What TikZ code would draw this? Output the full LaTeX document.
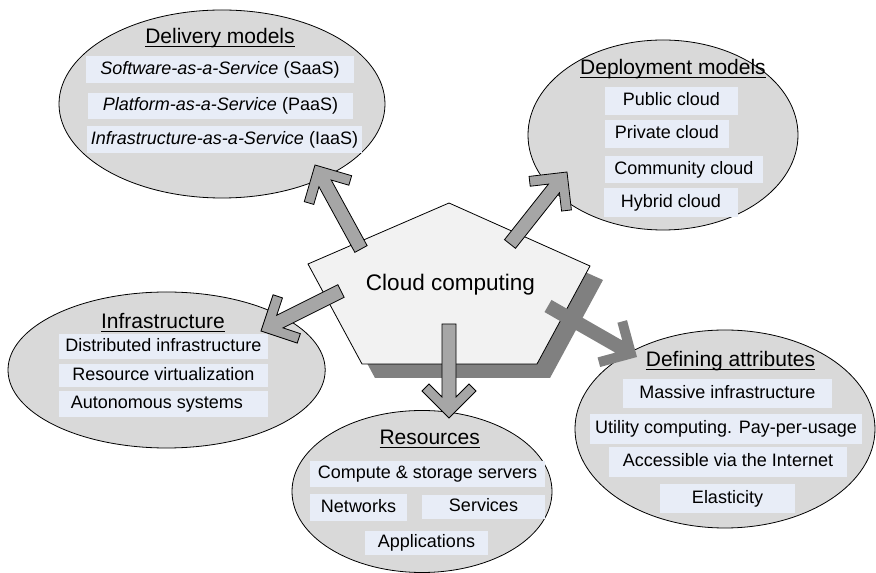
\documentclass[tikz,border=0pt]{standalone}
\usepackage{fontspec}
\setmainfont{Liberation Sans}
\usetikzlibrary{calc,shapes.geometric}
\definecolor{ellfill}{RGB}{217,217,217}
\definecolor{boxfill}{RGB}{232,237,247}
\definecolor{pentfill}{RGB}{242,242,242}
\definecolor{arrfill}{RGB}{166,166,166}
\definecolor{shadowgray}{RGB}{128,128,128}
\newcommand\ultext[1]{\setbox0\hbox{#1}\rlap{\rule[-2.4pt]{\wd0}{0.8pt}}\box0}
\newcommand\itemfont{\fontsize{13.5pt}{16pt}\selectfont}
\newcommand\titlefont{\fontsize{15.75pt}{18pt}\selectfont}
\newcommand\centerfont{\fontsize{16.9pt}{20pt}\selectfont}
% chevron block arrow: #1 tail, #2 tip, #3 style
\newcommand\chevarrow[3]{%
  \path ($(#2)!20.25pt!(#1)$) coordinate (caA)
        ($(#2)!25.5pt!(#1)$) coordinate (caB)
        ($(#2)!15.75pt!(#1)$) coordinate (caC);
  \path[#3] (#2) -- ($(caA)!20.25pt!90:(#2)$) -- ($(caB)!15pt!90:(#2)$)
     -- ($(caC)!5.25pt!90:(#2)$) -- ($(#1)!5.25pt!90:(#2)$)
     -- ($(#1)!5.25pt!-90:(#2)$) -- ($(caC)!5.25pt!-90:(#2)$)
     -- ($(caB)!15pt!-90:(#2)$) -- ($(caA)!20.25pt!-90:(#2)$) -- cycle;}
\begin{document}
\begin{tikzpicture}[x=0.75pt,y=-0.75pt,
  ell/.style 2 args={ellipse, draw=black, line width=0.6pt, fill=ellfill, inner sep=0pt,
    minimum width=1.5*#1pt, minimum height=1.5*#2pt},
  box/.style 2 args={fill=boxfill, inner sep=0pt, font=\itemfont,
    minimum width=0.75*#1pt, minimum height=0.75*#2pt, text height=9.8pt, text depth=2.9pt},
  ttl/.style={anchor=base, inner sep=0pt, font=\titlefont},
  arr/.style={fill=arrfill, draw=black, line width=0.6pt, line join=miter},
  arrdark/.style={fill=shadowgray}]
\useasboundingbox (0,0) rectangle (876,573);

% ellipses
\node[ell={163}{94}] (edel) at (222,104) {};
\node[ell={135}{95}] (edep) at (663,135) {};
\node[ell={158.6}{78}] (einf) at (166.6,370) {};
\node[ell={130}{81}] (eres) at (422,491.5) {};
\node[ell={150}{99}] (eatt) at (725,429) {};

% Delivery models
\node[ttl] (tdel) at (220,44) {\ultext{Delivery models}};
\node[box={268}{27}] (b11) at (220,69.5) {\textit{Software-as-a-Service} (SaaS)};
\node[box={265}{26}] (b12) at (220.5,106) {\textit{Platform-as-a-Service} (PaaS)};
\node[box={275}{27}] (b13) at (224.5,139.5) {\textit{Infrastructure-as-a-Service} (IaaS)};

% Deployment models
\node[ttl] (tdep) at (673,75) {\ultext{Deployment models}};
\node[box={133}{28}] (b21) at (671.5,101) {Public cloud};
\node[box={124}{28}] (b22) at (667,134) {Private cloud};
\node[box={158}{27}] (b23) at (684,169.5) {Community cloud};
\node[box={134}{29}] (b24) at (671,202.5) {Hybrid cloud};

% Infrastructure
\node[ttl] (tinf) at (163,329) {\ultext{Infrastructure}};
\node[box={209}{25}] (b31) at (163.5,346.5) {Distributed infrastructure};
\node[box={209}{23}] (b32) at (163.5,375.5) {Resource virtualization};
\node[box={209}{26}] (b33) at (163.5,404) {\hspace*{-10pt}Autonomous systems};

% Resources
\node[ttl] (tres) at (429.7,445) {\ultext{Resources}};
\node[box={235}{26}] (b41) at (427.5,474) {Compute \& storage servers};
\node[box={97}{27}] (b42) at (358.5,507.5) {Networks};
\node[box={123}{24}] (b43) at (483.5,507) {Services};
\node[box={123}{24}] (b44) at (426.5,543) {Applications};

% Defining attributes
\node[ttl] (tatt) at (730.5,367) {\ultext{Defining attributes}};
\node[box={209}{29}] (b51) at (727.5,393.5) {Massive infrastructure};
\node[box={272}{30}] (b52) at (726,429) {Utility computing. Pay-per-usage};
\node[box={238}{30}] (b53) at (728,462) {Accessible via the Internet};
\node[box={135}{29}] (b54) at (727.5,498.5) {Elasticity};

% pentagon
\coordinate (p1) at (449,203);
\coordinate (p2) at (590,266);
\coordinate (p3) at (537,364);
\coordinate (p4) at (362,364);
\coordinate (p5) at (308,264);
\fill[shadowgray] ([shift={(13,14)}]p1) -- ([shift={(13,14)}]p2) -- ([shift={(13,14)}]p3)
   -- ([shift={(13,14)}]p4) -- ([shift={(13,14)}]p5) -- cycle;
\draw[fill=pentfill, line width=0.6pt, line join=miter] (p1) -- (p2) -- (p3) -- (p4) -- (p5) -- cycle;
\node[anchor=base, inner sep=0pt, font=\centerfont] (cc) at (450.5,290.7) {Cloud computing};

% arrows
\coordinate (a1t) at (361,249); \coordinate (a1h) at (315,165);
\coordinate (a2t) at (510,244); \coordinate (a2h) at (567,172);
\coordinate (a3t) at (341,291); \coordinate (a3h) at (261,331);
\coordinate (a4t) at (449,324); \coordinate (a4h) at (449,418);
\coordinate (a5t) at (548,306); \coordinate (a5h) at (637,357);
\chevarrow{a1t}{a1h}{arr}
\chevarrow{a2t}{a2h}{arr}
\chevarrow{a3t}{a3h}{arr}
\chevarrow{a4t}{a4h}{arr}
\chevarrow{a5t}{a5h}{arrdark}
\end{tikzpicture}
\end{document}
